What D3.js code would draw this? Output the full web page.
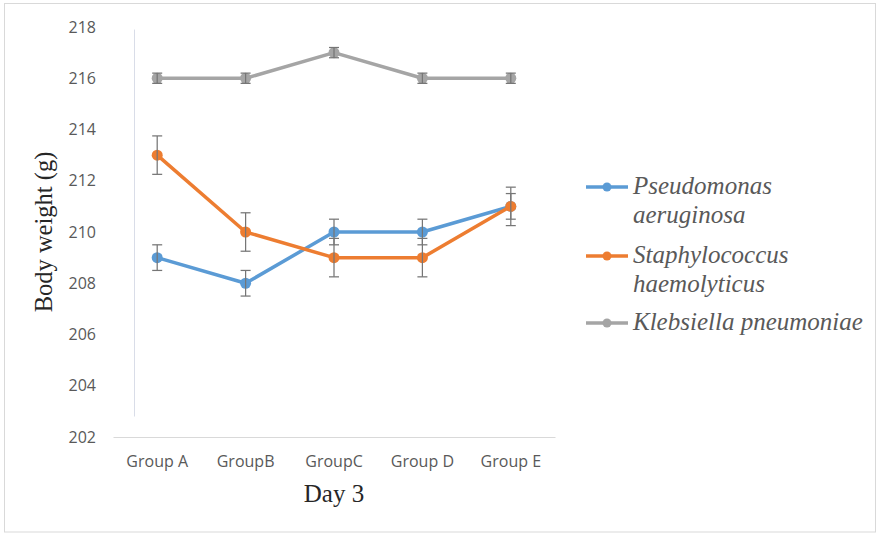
<!DOCTYPE html>
<html>
<head>
<meta charset="utf-8">
<script src="https://cdn.jsdelivr.net/npm/d3@7/dist/d3.min.js"></script>
<style>
  html, body { margin: 0; padding: 0; background: #fff; }
  svg { display: block; }
</style>
</head>
<body>
<svg id="chart" width="877" height="534"></svg>
<script>
// Body weight on day 3 by group, three bacterial strains
const groups = ["Group A", "GroupB", "GroupC", "Group D", "Group E"];
const seriesNames = ["Pseudomonas aeruginosa", "Staphylococcus haemolyticus", "Klebsiella pneumoniae"];
const legendLines = [["Pseudomonas", "aeruginosa"], ["Staphylococcus", "haemolyticus"], ["Klebsiella pneumoniae"]];
const pseudomonas = [209, 208, 210, 210, 211];
const staphylococcus = [213, 210, 209, 209, 211];
const klebsiella = [216, 216, 217, 216, 216];
const pseudomonasErr = [0.5, 0.5, 0.5, 0.5, 0.5];
const staphylococcusErr = [0.75, 0.75, 0.75, 0.75, 0.75];
const klebsiellaErr = [0.2, 0.2, 0.2, 0.2, 0.2];
const yTicks = [202, 204, 206, 208, 210, 212, 214, 216, 218];
const colors = ["#5B9BD5", "#ED7D31", "#A5A5A5"];

const series = [
  { name: seriesNames[0], values: pseudomonas, err: pseudomonasErr, color: colors[0], legend: legendLines[0] },
  { name: seriesNames[1], values: staphylococcus, err: staphylococcusErr, color: colors[1], legend: legendLines[1] },
  { name: seriesNames[2], values: klebsiella, err: klebsiellaErr, color: colors[2], legend: legendLines[2] }
];

const svg = d3.select("#chart");
const serif = "'Liberation Serif', 'Times New Roman', serif";
const sans = "'Open Sans', sans-serif";

// outer frame
svg.append("rect")
  .attr("x", 4.5).attr("y", 3.5)
  .attr("width", 871).attr("height", 528.5)
  .attr("fill", "none").attr("stroke", "#d9d9d9").attr("stroke-width", 1);

const x = d3.scaleBand().domain(groups).range([113, 555]).padding(0);
const y = d3.scaleLinear().domain([202, 218]).range([437, 27]);
const cx = g => x(g) + x.bandwidth() / 2;

// category axis
const xAxis = svg.append("g")
  .attr("transform", `translate(0,${y(202)})`)
  .call(d3.axisBottom(x).tickSize(0).tickPadding(19));
xAxis.select(".domain").attr("stroke", "#d9d9d9").attr("stroke-width", 1);
xAxis.selectAll("text")
  .attr("fill", "#595959")
  .style("font-family", sans)
  .style("font-size", "16px");

// value axis (labels only)
const yAxis = svg.append("g")
  .attr("transform", "translate(96,0)")
  .call(d3.axisLeft(y).tickValues(yTicks).tickSize(0).tickPadding(0).tickFormat(d3.format("d")));
yAxis.select(".domain").remove();
yAxis.selectAll("text")
  .attr("fill", "#595959")
  .style("font-family", sans)
  .style("font-size", "16px");

// thin vertical guide line inside plot
svg.append("line")
  .attr("x1", 134.5).attr("x2", 134.5)
  .attr("y1", y(217.9)).attr("y2", y(202.8))
  .attr("stroke", "#d9dde8").attr("stroke-width", 1);

const line = d3.line()
  .x((d, i) => cx(groups[i]))
  .y(d => y(d));

series.forEach(s => {
  const g = svg.append("g");
  g.append("path")
    .datum(s.values)
    .attr("d", line)
    .attr("fill", "none")
    .attr("stroke", s.color)
    .attr("stroke-width", 3.5)
    .attr("stroke-linejoin", "round")
    .attr("stroke-linecap", "round");
  g.selectAll("circle")
    .data(s.values)
    .join("circle")
    .attr("cx", (d, i) => cx(groups[i]))
    .attr("cy", d => y(d))
    .attr("r", 5.5)
    .attr("fill", s.color);
  // error bars
  const eb = g.selectAll("g.err")
    .data(s.values.map((v, i) => ({ v, e: s.err[i], g: groups[i] })))
    .join("g").attr("class", "err")
    .attr("stroke", "#767676").attr("stroke-width", 1.25);
  eb.append("line")
    .attr("x1", d => cx(d.g)).attr("x2", d => cx(d.g))
    .attr("y1", d => y(d.v - d.e)).attr("y2", d => y(d.v + d.e));
  eb.append("line")
    .attr("x1", d => cx(d.g) - 5).attr("x2", d => cx(d.g) + 5)
    .attr("y1", d => y(d.v + d.e)).attr("y2", d => y(d.v + d.e));
  eb.append("line")
    .attr("x1", d => cx(d.g) - 5).attr("x2", d => cx(d.g) + 5)
    .attr("y1", d => y(d.v - d.e)).attr("y2", d => y(d.v - d.e));
});

// axis titles
svg.append("text")
  .attr("x", cx("GroupC")).attr("y", 502)
  .attr("text-anchor", "middle")
  .attr("fill", "#262626")
  .style("font-family", serif)
  .style("font-size", "25px")
  .text("Day 3");

svg.append("text")
  .attr("transform", `translate(52,${y(210)}) rotate(-90)`)
  .attr("text-anchor", "middle")
  .attr("fill", "#262626")
  .style("font-family", serif)
  .style("font-size", "24.5px")
  .text("Body weight (g)");

// legend
const legendY = [187, 256, 323];
const legend = svg.append("g");
series.forEach((s, i) => {
  const ly = legendY[i];
  legend.append("line")
    .attr("x1", 586).attr("x2", 628)
    .attr("y1", ly).attr("y2", ly)
    .attr("stroke", s.color).attr("stroke-width", 3.5);
  legend.append("circle")
    .attr("cx", 607).attr("cy", ly).attr("r", 4.5)
    .attr("fill", s.color);
  const t = legend.append("text")
    .attr("x", 633).attr("y", ly + 7)
    .attr("fill", "#595959")
    .style("font-family", serif)
    .style("font-style", "italic")
    .style("font-size", "25px");
  s.legend.forEach((ln, k) => {
    t.append("tspan").attr("x", 633).attr("dy", k === 0 ? 0 : 29).text(ln);
  });
});
</script>
</body>
</html>
